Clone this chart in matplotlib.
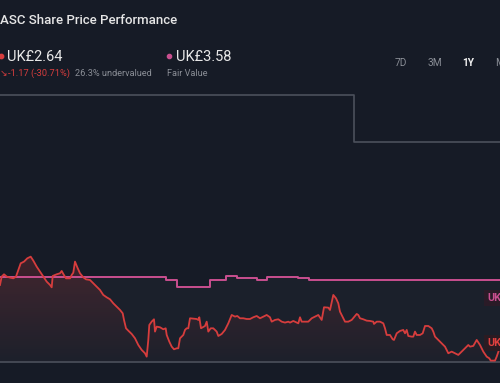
import numpy as np
import matplotlib
matplotlib.use("Agg")
import matplotlib.pyplot as plt
from matplotlib.colors import LinearSegmentedColormap
from matplotlib.patches import PathPatch, Ellipse

plt.rcParams['font.family'] = ['Roboto', 'DejaVu Sans']

# ---- data ----
price_days = [0, 1.7, 4, 6.7, 10, 13.3, 16, 18.3, 20.7, 24, 27.3, 30.7, 33.3, 36.7, 40, 43.3, 46.7, 50,
              51.7, 52.7, 56.7, 60, 61.7, 63.3, 66, 70, 71.7, 73.3, 75, 77.3, 80, 83.3, 86, 90, 93.3,
              96.7, 100, 103.3, 106.7, 110, 113.3, 116.7, 120, 122.7, 124, 126, 128.3, 131.7, 135,
              138.3, 141.7, 143.3, 145, 146.7, 148.3, 149.3, 151.7, 154, 155, 156.7, 160, 163.3, 165.7,
              166.7, 169.3, 171.7, 174, 176.7, 178.3, 180, 183.3, 185, 186.7, 188.3, 190, 196.7, 198.3,
              199.3, 201, 205, 206.7, 208.3, 210.7, 213.3, 216.7, 218.3, 221.7, 225, 228.3, 231.7, 235,
              237.3, 240, 243.3, 246.7, 250, 253.3, 256.7, 260, 263.3, 266.7, 270, 271.7, 275, 278.3,
              281.7, 285, 288.3, 290, 293.3, 296.7, 298.3, 300, 301.7, 305, 308.3, 311.7, 315, 318.3,
              321.7, 324, 328.3, 330, 333.3, 336, 338.3, 340, 343.3, 345, 348.3, 351.7, 355, 356.7,
              358.3, 360, 363.3, 366.7, 370, 373.3, 374, 376.7, 380, 383.3, 385, 386.7, 390, 392.7,
              394, 396.7, 400, 403.3, 405, 406.7, 408.3, 411.7, 413.3, 415, 416.7, 420, 422.7, 425,
              428.3, 431.7, 433.3, 435, 438.3, 441.7, 445, 448.3, 451.7, 455, 458.3, 461.7, 465, 468.3,
              470, 473.3, 476.7, 480, 483.3, 486.7, 489.3, 490.7, 495, 496.7, 499, 500]
price_vals = [3.515, 3.631, 3.663, 3.631, 3.617, 3.607, 3.631, 3.723, 3.816, 3.839, 3.885, 3.908, 3.853,
              3.769, 3.700, 3.631, 3.561, 3.515, 3.482, 3.640, 3.663, 3.677, 3.709, 3.668, 3.607, 3.607,
              3.654, 3.686, 3.839, 3.760, 3.677, 3.621, 3.593, 3.584, 3.538, 3.492, 3.445, 3.376, 3.343,
              3.316, 3.260, 3.214, 3.168, 3.121, 3.029, 2.913, 2.880, 2.834, 2.774, 2.681, 2.612, 2.589,
              2.566, 2.519, 2.751, 2.959, 3.006, 3.038, 2.867, 2.936, 2.927, 2.899, 2.913, 2.820, 2.728,
              2.658, 2.621, 2.635, 2.635, 2.774, 2.820, 2.890, 2.913, 2.913, 3.052, 3.042, 3.029, 3.066,
              2.913, 2.945, 3.005, 2.867, 2.913, 2.913, 2.867, 2.806, 2.834, 2.890, 2.982, 3.098, 3.075,
              3.084, 3.052, 3.052, 3.042, 3.042, 3.066, 3.084, 3.052, 3.075, 3.098, 3.066, 3.005, 3.029,
              3.038, 3.005, 2.992, 3.005, 2.992, 3.015, 2.992, 2.982, 3.066, 3.005, 3.005, 3.005, 3.052,
              3.075, 3.098, 3.029, 3.205, 3.200, 3.167, 3.376, 3.330, 3.260, 3.144, 3.052, 3.005, 3.005,
              3.029, 3.084, 3.112, 3.098, 3.052, 3.038, 3.019, 3.015, 3.005, 2.973, 3.005, 3.005, 2.982,
              2.913, 2.820, 2.820, 2.760, 2.751, 2.843, 2.876, 2.890, 2.843, 2.890, 2.806, 2.797, 2.797,
              2.867, 2.820, 2.820, 2.843, 2.945, 2.945, 2.913, 2.867, 2.797, 2.751, 2.705, 2.658, 2.566,
              2.589, 2.566, 2.543, 2.589, 2.635, 2.681, 2.658, 2.668, 2.751, 2.681, 2.589, 2.519, 2.496,
              2.464, 2.464, 2.519, 2.612, 2.635]

fv_days = [0, 166, 176.7, 210, 226, 236.7, 256.7, 266.7, 298.3, 309, 500]
fv_vals = [3.630, 3.584, 3.488, 3.584, 3.644, 3.605, 3.584, 3.630, 3.617, 3.580, 3.580]

upper_days = [0, 354.3, 500]
upper_vals = [6.154, 5.501, 5.501]

baseline_price = 2.441
periods = ["7D", "3M", "1Y", "Max"]

BG = "#161b26"
RED = "#d63d3d"
PINK = "#c94f8f"
GRAY_TXT = "#8a8e96"

W, H = 500, 383
fig = plt.figure(figsize=(W / 100, H / 100), dpi=100, facecolor=BG)
ax = fig.add_axes([0, 0, 1, 1])
ax.set_facecolor(BG)
ax.axis("off")

# faint fill under fair value line
ax.fill_between(fv_days, fv_vals, baseline_price, step="post", color="#ffffff", alpha=0.025, lw=0)

# gradient fill under price line
poly = ax.fill_between(price_days, price_vals, baseline_price, color="none", lw=0)
path = poly.get_paths()[0]
cmap = LinearSegmentedColormap.from_list("g", [(0.84, 0.24, 0.24, 0.01), (0.84, 0.24, 0.24, 0.22)])
grad = np.linspace(0, 1, 256).reshape(-1, 1)
im = ax.imshow(grad, cmap=cmap, origin="lower", aspect="auto",
               extent=[0, 500, baseline_price, 3.95], zorder=1)
patch = PathPatch(path, transform=ax.transData, facecolor="none", edgecolor="none")
ax.add_patch(patch)
im.set_clip_path(patch)

# lines
ax.plot(upper_days, upper_vals, drawstyle="steps-post", color="#4b505b", lw=1.2, zorder=2)
ax.axhline(baseline_price, color="#4b505b", lw=1.2, zorder=2)
ax.plot(fv_days, fv_vals, drawstyle="steps-post", color=PINK, lw=1.4, zorder=3)
ax.plot(price_days, price_vals, color=RED, lw=1.3, zorder=4)
ax.set_xlim(0, 500)
ax.set_ylim(2.153, 7.473)

def fx(x):
    return x / W

def fy(y):
    return 1 - y / H

# header texts
fig.text(fx(-0.5), fy(21), "ASC Share Price Performance", color="#e6e6e6", fontsize=9.5,
         fontweight="medium", va="center", ha="left")

fig.add_artist(Ellipse((fx(1.5), fy(56.5)), 4.4 / W, 4.4 / H, color=RED, transform=fig.transFigure))
fig.text(fx(7.5), fy(57), "UK£2.64", color="#e8e8e8", fontsize=10.5, va="center", ha="left")
fig.text(fx(0), fy(73.5), "↘", color=RED, fontsize=6.5, va="center", ha="left",
         family=["DejaVu Sans"])
fig.text(fx(8), fy(73.5), "-1.17 (-30.71%)", color=RED, fontsize=6.7, va="center", ha="left")
fig.text(fx(75), fy(73.5), "26.3% undervalued", color=GRAY_TXT, fontsize=6.6, va="center", ha="left")

fig.add_artist(Ellipse((fx(169.5), fy(56.5)), 4.2 / W, 4.2 / H, color=PINK, transform=fig.transFigure))
fig.text(fx(176), fy(57), "UK£3.58", color="#e8e8e8", fontsize=10.5, va="center", ha="left")
fig.text(fx(167), fy(73.5), "Fair Value", color=GRAY_TXT, fontsize=6.6, va="center", ha="left")

# period buttons
period_x = [400.5, 435, 468.5, 495]
for lbl, px in zip(periods, period_x):
    sel = lbl == "1Y"
    fig.text(fx(px), fy(63), lbl, color="#f0f0f0" if sel else GRAY_TXT, fontsize=7.3,
             fontweight="bold" if sel else "normal", va="center",
             ha="left" if lbl == "Max" else "center")

# right edge labels
fig.text(fx(487), fy(298), "UK£3.58", color=PINK, fontsize=7.8, fontweight="bold",
         va="center", ha="left",
         bbox=dict(boxstyle="square,pad=0.32", fc="#2a1b27", ec="none"))
fig.text(fx(487), fy(343), "UK£2.64", color="#e0403f", fontsize=7.8, fontweight="bold",
         va="center", ha="left",
         bbox=dict(boxstyle="square,pad=0.32", fc="#2b1b22", ec="none"))

fig.savefig("out.png", dpi=100, facecolor=BG)
